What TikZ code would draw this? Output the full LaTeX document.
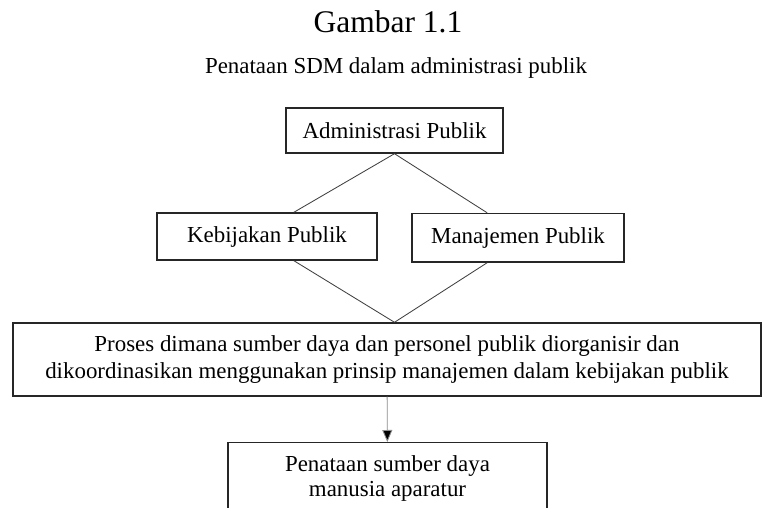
\documentclass[tikz,border=0pt]{standalone}
\usepackage{fontspec}
\setmainfont{Liberation Serif}
\usetikzlibrary{arrows.meta, positioning}

\begin{document}
\begin{tikzpicture}[font=\fontsize{16.3}{19.1}\selectfont,
  kotak/.style={draw=black!85, line width=1pt, align=center, inner sep=0pt},
  garis/.style={draw=black!75, line width=0.6pt}]
  \useasboundingbox (0,0) rectangle (19.075,12.7);
  \clip (0,0) rectangle (19.075,12.7);
  \fill[white] (0,0) rectangle (19.075,12.7);

  % judul
  \node[anchor=base, font=\fontsize{22.4}{26}\selectfont] (judul) at (9.7,11.875) {Gambar 1.1};
  \node[anchor=base] (subjudul) at (9.9,10.85) {Penataan SDM dalam administrasi publik};

  % kotak
  \node[kotak, minimum width=5.425cm, minimum height=1.125cm] (admin) at (9.8625,9.4375) {Administrasi Publik};
  \node[kotak, minimum width=5.5cm, minimum height=1.175cm] (kebijakan) at (6.675,6.7875) {Kebijakan Publik};
  \node[kotak, minimum width=5.3cm, minimum height=1.2125cm] (manajemen) at (12.95,6.756) {Manajemen Publik};
  \node[kotak, minimum width=18.7cm, minimum height=1.825cm] (proses) at (9.675,3.7125)
    {Proses dimana sumber daya dan personel publik diorganisir dan\\
     dikoordinasikan menggunakan prinsip manajemen dalam kebijakan publik};
  \node[kotak, anchor=north, minimum width=7.975cm, minimum height=1.8cm,
    font=\fontsize{16.3}{17.7}\selectfont] (aparatur) at (9.6875,1.65)
    {Penataan sumber daya\\ manusia aparatur};

  % garis
  \draw[garis] (admin.south) -- (kebijakan.42);
  \draw[garis] (admin.south) -- (manajemen.141);
  \draw[garis] (kebijakan.318) -- (admin.south |- proses.north);
  \draw[garis] (manajemen.219) -- (admin.south |- proses.north);
  \draw[draw=black!45, line width=0.6pt, -{Triangle[length=0.3cm, width=0.25cm, fill=black]}] (proses) -- (aparatur);
\end{tikzpicture}
\end{document}
